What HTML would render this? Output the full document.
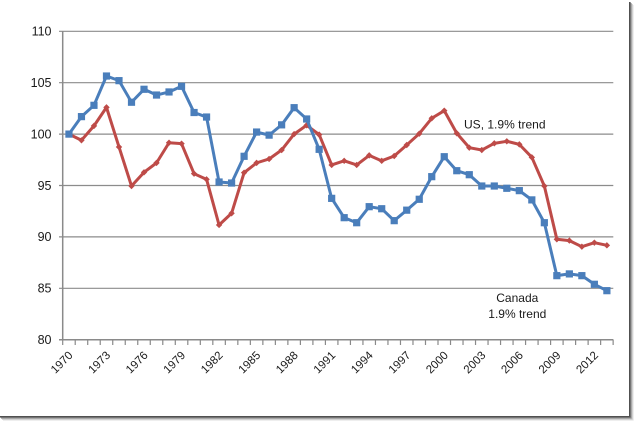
<!DOCTYPE html>
<html><head><meta charset="utf-8"><style>
html,body{margin:0;padding:0;background:#fff;}
svg{display:block;}
text{font-family:"Liberation Sans",sans-serif;fill:#1a1a1a;}
</style></head><body>
<svg width="634" height="421" viewBox="0 0 634 421" xmlns="http://www.w3.org/2000/svg">
<rect width="634" height="421" fill="#fff"/>
<!-- frame shadow -->
<rect x="629" y="2" width="1.6" height="415.5" fill="#505050"/>
<rect x="630.6" y="3" width="1" height="415" fill="#8a8a8a"/>
<rect x="631.6" y="4" width="1" height="415" fill="#bdbdbd"/>
<rect x="632.6" y="5" width="1" height="415" fill="#e2e2e2"/>
<rect x="0" y="416" width="630.6" height="1.6" fill="#505050"/>
<rect x="1" y="417.6" width="630.6" height="1" fill="#8a8a8a"/>
<rect x="2" y="418.6" width="630.6" height="1" fill="#bdbdbd"/>
<rect x="3" y="419.6" width="630.6" height="1" fill="#e2e2e2"/>

<!-- gridlines -->
<g stroke="#8c8c8c" stroke-width="1.2">
<line x1="59" y1="31.3" x2="613.3" y2="31.3"/>
<line x1="59" y1="82.7" x2="613.3" y2="82.7"/>
<line x1="59" y1="134.1" x2="613.3" y2="134.1"/>
<line x1="59" y1="185.5" x2="613.3" y2="185.5"/>
<line x1="59" y1="236.9" x2="613.3" y2="236.9"/>
<line x1="59" y1="288.3" x2="613.3" y2="288.3"/>
</g>
<!-- axes -->
<g stroke="#8a8a8a" stroke-width="1.5">
<line x1="62.7" y1="31" x2="62.7" y2="340"/>
<line x1="59" y1="339.7" x2="613.3" y2="339.7"/>
</g>
<g id="xt" stroke="#8a8a8a" stroke-width="1.2"></g>

<!-- y labels -->
<g font-size="12.5" text-anchor="end">
<text x="51.5" y="35.5">110</text>
<text x="51.5" y="87">105</text>
<text x="51.5" y="138.4">100</text>
<text x="51.5" y="189.8">95</text>
<text x="51.5" y="241.2">90</text>
<text x="51.5" y="292.6">85</text>
<text x="51.5" y="344">80</text>
</g>
<g id="xl" font-size="11.5" text-anchor="end"></g>

<g id="series"></g>

<text x="464" y="128.5" font-size="12" textLength="81.5" lengthAdjust="spacingAndGlyphs">US, 1.9% trend</text>
<text x="517.3" y="302" font-size="12" text-anchor="middle">Canada</text>
<text x="517.3" y="318" font-size="12" text-anchor="middle">1.9% trend</text>

<script>
(function(){
var ns="http://www.w3.org/2000/svg";
function X(i){return 62.7+12.51*(i+0.5);}
function Y(v){return 339.7-(v-80)*10.28;}
var ca=[100.0,101.7,102.8,105.65,105.2,103.1,104.36,103.8,104.1,104.65,102.1,101.66,95.34,95.24,97.84,100.2,99.9,100.9,102.57,101.47,98.52,93.75,91.87,91.38,92.94,92.74,91.58,92.6,93.66,95.86,97.8,96.44,96.05,94.95,94.95,94.73,94.5,93.6,91.38,86.23,86.4,86.23,85.39,84.77];
var us=[100.0,99.4,100.8,102.6,98.75,94.95,96.28,97.2,99.16,99.07,96.15,95.6,91.16,92.3,96.25,97.2,97.58,98.45,100.0,100.86,99.95,97.0,97.4,97.0,97.93,97.4,97.87,98.94,100.04,101.54,102.28,100.08,98.68,98.45,99.1,99.3,99.0,97.74,94.95,89.77,89.64,89.05,89.44,89.18];
var xt=document.getElementById("xt"),xl=document.getElementById("xl"),s=document.getElementById("series");
for(var i=0;i<=44;i++){var x=62.7+12.51*i;var l=document.createElementNS(ns,"line");l.setAttribute("x1",x);l.setAttribute("x2",x);l.setAttribute("y1",339.7);l.setAttribute("y2",345);xt.appendChild(l);}
for(var y=1970;y<=2012;y+=3){var i2=y-1970;var t=document.createElementNS(ns,"text");var cx=X(i2)+4.5,cy=356;t.setAttribute("transform","translate("+cx+","+cy+") rotate(-45)");t.textContent=y;xl.appendChild(t);}
function poly(d,c){var p=d.map(function(v,i){return X(i).toFixed(2)+","+Y(v).toFixed(2);}).join(" ");var e=document.createElementNS(ns,"polyline");e.setAttribute("points",p);e.setAttribute("fill","none");e.setAttribute("stroke",c);e.setAttribute("stroke-width","3");e.setAttribute("stroke-linejoin","round");s.appendChild(e);}
poly(us,"#be4b48");
us.forEach(function(v,i){var x=X(i),y=Y(v);var e=document.createElementNS(ns,"polygon");e.setAttribute("points",x+","+(y-3.2)+" "+(x+3.2)+","+y+" "+x+","+(y+3.2)+" "+(x-3.2)+","+y);e.setAttribute("fill","#be4b48");s.appendChild(e);});
poly(ca,"#4a7ebb");
ca.forEach(function(v,i){var x=X(i),y=Y(v);var e=document.createElementNS(ns,"rect");e.setAttribute("x",x-3.6);e.setAttribute("y",y-3.6);e.setAttribute("width",7.2);e.setAttribute("height",7.2);e.setAttribute("fill","#4a7ebb");s.appendChild(e);});
})();
</script>
</svg>
</body></html>
